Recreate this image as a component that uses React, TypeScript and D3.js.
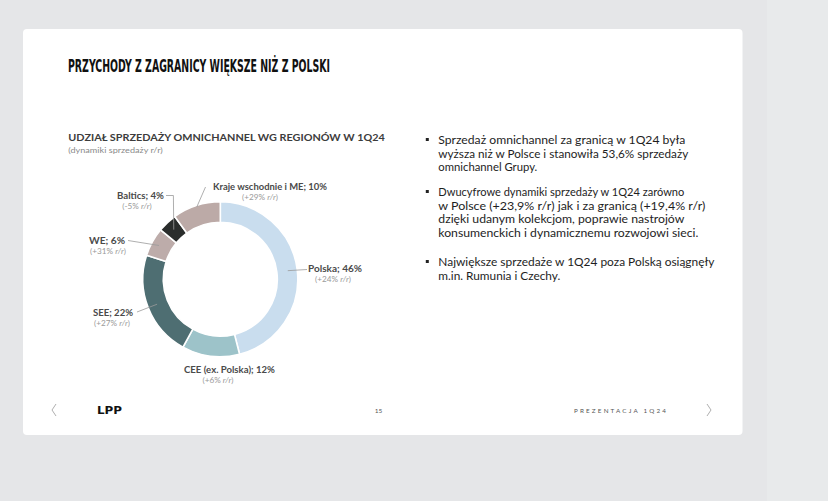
import React from "react";
import * as d3 from "d3";

// ---- Data ----
const regions = ["Polska", "CEE (ex. Polska)", "SEE", "WE", "Baltics", "Kraje wschodnie i ME"];
const shares = [46, 12, 22, 6, 4, 10];
const growth = ["+24%", "+6%", "+27%", "+31%", "-5%", "+29%"];
const colors = ["#c9ddee", "#9dc3c9", "#4e6e72", "#bdacaa", "#2a2d2c", "#bcaaa7"];

const title = "PRZYCHODY Z ZAGRANICY WIĘKSZE NIŻ Z POLSKI";
const chartTitle = "UDZIAŁ SPRZEDAŻY OMNICHANNEL WG REGIONÓW W 1Q24";
const chartSubtitle = "(dynamiki sprzedaży r/r)";

const bullets = [
  ["Sprzedaż omnichannel za granicą w 1Q24 była", "wyższa niż w Polsce i stanowiła 53,6% sprzedaży", "omnichannel Grupy."],
  ["Dwucyfrowe dynamiki sprzedaży w 1Q24 zarówno", "w Polsce (+23,9% r/r) jak i za granicą (+19,4% r/r)", "dzięki udanym kolekcjom, poprawie nastrojów", "konsumenckich i dynamicznemu rozwojowi sieci."],
  ["Największe sprzedaże w 1Q24 poza Polską osiągnęły", "m.in. Rumunia i Czechy."],
];

// ---- Layout (annotation placement, not data) ----
const cx = 220.3, cy = 279.2, rOuter = 77.5, rInner = 57;
// label layout per slice: main label x/baseline/width, sub label center x, leader path after start, leader start radius
const labelLayout = [
  { x: 308, y: 272, w: 54, sx: 333, leader: [[307, 269.5]], lr: 68 },
  { x: 184, y: 373, w: 91, sx: 218, leader: null, lr: 68 },
  { x: 93, y: 316, w: 40, sx: 112, leader: [[137, 312]], lr: 68 },
  { x: 89, y: 244, w: 36, sx: 108, leader: [[128, 240.5]], lr: 70 },
  { x: 117, y: 199, w: 47, sx: 137, leader: [[173.4, 195.5], [166, 195.5]], lr: 68 },
  { x: 213, y: 190, w: 114, sx: 260, leader: [[205.5, 187]], lr: 76 },
];
const lineWidths = [
  [247, 250, 99],
  [246, 267, 246, 260],
  [276, 122],
];

export default function App() {
  const pie = d3.pie<number>().sort(null).value((d) => d)(shares);
  const arc = d3.arc<d3.PieArcDatum<number>>().innerRadius(rInner).outerRadius(rOuter);
  const lineGen = d3.line();

  const bulletBaselines: number[][] = [
    [144, 157.7, 171.3],
    [196, 209.7, 223.3, 237],
    [266, 279.5],
  ];

  return (
    <svg width={828} height={501} style={{ position: "absolute", left: 0, top: 0 }} xmlns="http://www.w3.org/2000/svg">
      <rect x={0} y={0} width={828} height={501} fill="#e5e6e8" />
      <rect x={767} y={0} width={61} height={501} fill="#e8eaeb" />
      <rect x={23} y={29} width={719.5} height={406} rx={4} fill="#ffffff" />

      <text x={68} y={72} fontFamily="'DejaVu Sans Condensed', 'DejaVu Sans', sans-serif" fontWeight="bold" fontSize={17.5} fill="#111" textLength={262} lengthAdjust="spacingAndGlyphs">{title}</text>

      <text x={68.3} y={140.7} fontFamily="Lato, sans-serif" fontWeight="bold" fontSize={9.6} fill="#3c3c3c" textLength={316.5} lengthAdjust="spacingAndGlyphs">{chartTitle}</text>
      <text x={68.3} y={153} fontFamily="Lato, sans-serif" fontSize={7.8} fill="#8a8a8a" textLength={94.5} lengthAdjust="spacingAndGlyphs">{chartSubtitle}</text>

      <g transform={`translate(${cx},${cy})`}>
        {pie.map((p, i) => (
          <path key={regions[i]} d={arc(p) || ""} fill={colors[i]} stroke="#ffffff" strokeWidth={1.6} />
        ))}
      </g>

      {pie.map((p, i) => {
        const L = labelLayout[i];
        const a = (p.startAngle + p.endAngle) / 2;
        const start: [number, number] = [cx + L.lr * Math.sin(a), cy - L.lr * Math.cos(a)];
        return (
          <g key={"lab" + i}>
            {L.leader && (
              <path d={lineGen([start, ...(L.leader as [number, number][])]) || ""} fill="none" stroke="#9a9a9a" strokeWidth={0.8} />
            )}
            <text x={L.x} y={L.y} fontFamily="Lato, sans-serif" fontWeight="bold" fontSize={9} fill="#4a4a4a" textLength={L.w} lengthAdjust="spacingAndGlyphs">
              {`${regions[i]}; ${shares[i]}%`}
            </text>
            <text x={L.sx} y={L.y + 10} textAnchor="middle" fontFamily="Lato, sans-serif" fontSize={8.2} fill="#9a9a9a">
              {`(${growth[i]} `}<tspan fontStyle="italic">r/r</tspan>{")"}
            </text>
          </g>
        );
      })}

      {bullets.map((para, pi) => (
        <g key={"b" + pi}>
          <rect x={425.8} y={bulletBaselines[pi][0] - 6} width={3} height={3} fill="#222" />
          {para.map((line, li) => (
            <text key={li} x={438.3} y={bulletBaselines[pi][li]} fontFamily="Lato, sans-serif" fontSize={11.2} fill="#1e1e1e" textLength={lineWidths[pi][li]} lengthAdjust="spacingAndGlyphs">
              {line}
            </text>
          ))}
        </g>
      ))}

      <path d="M56,404 L52,410 L56,416" fill="none" stroke="#9a9a9a" strokeWidth={0.8} />
      <text x={97} y={414} fontFamily="'DejaVu Sans', sans-serif" fontWeight="bold" fontSize={11} fill="#111" textLength={25} lengthAdjust="spacingAndGlyphs">LPP</text>
      <text x={378.5} y={412.5} textAnchor="middle" fontFamily="Lato, sans-serif" fontSize={6.5} fill="#555">15</text>
      <text x={574} y={412.5} fontFamily="Lato, sans-serif" fontSize={6.3} fill="#555" textLength={92} lengthAdjust="spacing">PREZENTACJA 1Q24</text>
      <path d="M707,404 L711,410 L707,416" fill="none" stroke="#9a9a9a" strokeWidth={0.8} />
    </svg>
  );
}
